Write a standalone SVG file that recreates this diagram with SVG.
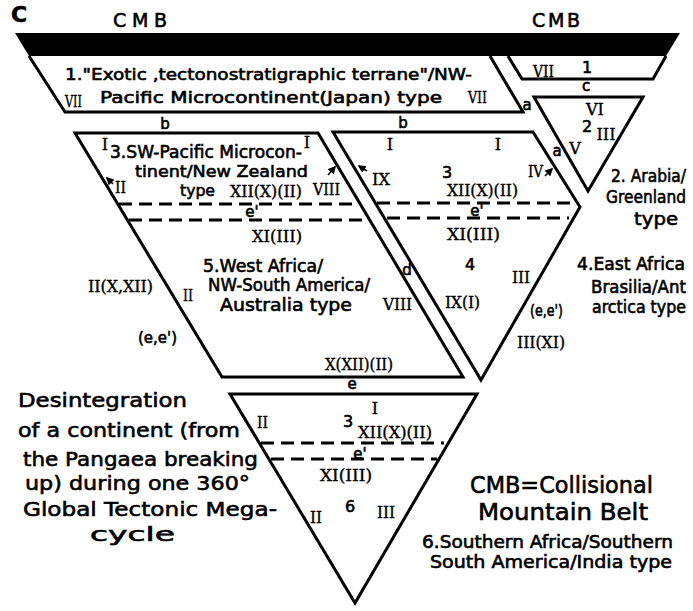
<svg xmlns="http://www.w3.org/2000/svg" width="693" height="611" viewBox="0 0 693 611">
<defs>
<style>
.ln{fill:none;stroke:#000;stroke-width:3;stroke-linejoin:miter}
.ds{fill:none;stroke:#000;stroke-width:3;stroke-dasharray:13 7}
.s{font-family:"DejaVu Sans","Liberation Sans",sans-serif;fill:#000;stroke:#000;stroke-width:0.6}
.r{font-family:"DejaVu Serif","Liberation Serif",serif;fill:#000;font-size:16px;stroke:#000;stroke-width:0.4}
.f15{font-size:15px}
.f16{font-size:16px}
.f17{font-size:17px}
.f18{font-size:18px}
.f19{font-size:19px}
.f20{font-size:20px}
.f23{font-size:23px}
.ar{fill:none;stroke:#000;stroke-width:1.6}
</style>
<marker id="ah" viewBox="0 0 10 10" refX="8" refY="5" markerWidth="5" markerHeight="5" orient="auto"><path d="M0,0 L10,5 L0,10 z" fill="#000"/></marker>
</defs>
<rect width="693" height="611" fill="#fff"/>

<g id="title">
<text class="s" x="11" y="22" font-size="22" font-weight="bold">C</text>
<text class="s f19" x="113" y="27" textLength="54" lengthAdjust="spacing">CMB</text>
<text class="s f19" x="532" y="27" textLength="48" lengthAdjust="spacing">CMB</text>
</g>

<g id="cmb-band">
<polygon points="15,33 680,33 666,56 29,56" fill="#000"/>
</g>

<g id="node1">
<polyline class="ln" points="29,56 65,112 523,112 490,56"/>
<text class="s f16" x="65" y="80" textLength="407" lengthAdjust="spacingAndGlyphs">1."Exotic ,tectonostratigraphic terrane"/NW-</text>
<text class="s f16" x="100" y="103" textLength="342" lengthAdjust="spacingAndGlyphs">Pacific Microcontinent(Japan) type</text>
<text class="r" x="65" y="107" textLength="17" lengthAdjust="spacingAndGlyphs">VII</text>
<text class="r" x="468" y="103" textLength="19" lengthAdjust="spacingAndGlyphs">VII</text>
</g>

<g id="node1b">
<polyline class="ln" points="508,56 522,79 653,79 666,56"/>
<text class="r" x="533" y="77" textLength="21" lengthAdjust="spacingAndGlyphs">VII</text>
<text class="s f16" x="587" y="73" text-anchor="middle">1</text>
</g>

<g id="node2">
<polygon class="ln" points="534,97 643,97 588,191"/>
<text class="r" x="595" y="115" text-anchor="middle">VI</text>
<text class="s f16" x="587" y="132" text-anchor="middle">2</text>
<text class="r" x="606" y="140" text-anchor="middle">III</text>
<text class="r" x="575" y="154" text-anchor="middle">V</text>
</g>

<g id="node34">
<polygon class="ln" points="333,132 533,132 580,207 481,380"/>
<line class="ds" x1="377" y1="203" x2="571" y2="203"/>
<line class="ds" x1="387" y1="218" x2="569" y2="218"/>
<text class="r" x="390" y="150" text-anchor="middle">I</text>
<text class="r" x="498" y="150" text-anchor="middle">I</text>
<text class="r" x="372" y="185" textLength="18" lengthAdjust="spacingAndGlyphs">IX</text>
<text class="s f16" x="447" y="178" text-anchor="middle">3</text>
<text class="r" x="447" y="196" textLength="71" lengthAdjust="spacingAndGlyphs">XII(X)(II)</text>
<text class="r" x="528" y="177" textLength="15" lengthAdjust="spacingAndGlyphs">IV</text>
<text class="s f15" x="477" y="216" text-anchor="middle">e'</text>
<text class="r" x="447" y="240" textLength="53" lengthAdjust="spacingAndGlyphs">XI(III)</text>
<text class="s f16" x="470" y="270" text-anchor="middle">4</text>
<text class="r" x="512" y="283" textLength="18" lengthAdjust="spacingAndGlyphs">III</text>
<text class="r" x="445" y="308" textLength="35" lengthAdjust="spacingAndGlyphs">IX(I)</text>
<text class="s f15" x="530" y="316" textLength="33" lengthAdjust="spacingAndGlyphs">(e,e')</text>
<text class="r" x="517" y="348" textLength="48" lengthAdjust="spacingAndGlyphs">III(XI)</text>
</g>

<g id="node5">
<polygon class="ln" points="75,133 318,133 463,377 222,377"/>
<line class="ds" x1="119" y1="204" x2="359" y2="204"/>
<line class="ds" x1="129" y1="220" x2="368" y2="220"/>
<text class="r" x="105" y="150" text-anchor="middle">I</text>
<text class="s f17" x="110" y="158" textLength="192" lengthAdjust="spacingAndGlyphs">3.SW-Pacific Microcon-</text>
<text class="r" x="307" y="148" text-anchor="middle">I</text>
<text class="s f16" x="135" y="177" textLength="173" lengthAdjust="spacingAndGlyphs">tinent/New Zealand</text>
<text class="r" x="115" y="193" textLength="11" lengthAdjust="spacingAndGlyphs">II</text>
<text class="s f16" x="180" y="196" textLength="35" lengthAdjust="spacingAndGlyphs">type</text>
<text class="r" x="230" y="197" textLength="72" lengthAdjust="spacingAndGlyphs">XII(X)(II)</text>
<text class="r" x="313" y="195" textLength="27" lengthAdjust="spacingAndGlyphs">VIII</text>
<text class="s f15" x="252" y="217" text-anchor="middle">e'</text>
<text class="r" x="252" y="242" textLength="50" lengthAdjust="spacingAndGlyphs">XI(III)</text>
<text class="s f17" x="203" y="272" textLength="120" lengthAdjust="spacingAndGlyphs">5.West Africa/</text>
<text class="s f17" x="208" y="291" textLength="162" lengthAdjust="spacingAndGlyphs">NW-South America/</text>
<text class="s f17" x="220" y="311" textLength="132" lengthAdjust="spacingAndGlyphs">Australia type</text>
<text class="r" x="88" y="292" textLength="65" lengthAdjust="spacingAndGlyphs">II(X,XII)</text>
<text class="r" x="183" y="301" textLength="10" lengthAdjust="spacingAndGlyphs">II</text>
<text class="s f15" x="138" y="343" textLength="39" lengthAdjust="spacingAndGlyphs">(e,e')</text>
<text class="r" x="383" y="310" textLength="29" lengthAdjust="spacingAndGlyphs">VIII</text>
<text class="r" x="325" y="370" textLength="68" lengthAdjust="spacingAndGlyphs">X(XII)(II)</text>
</g>

<g id="node6">
<polygon class="ln" points="230,394 477,394 355,603"/>
<line class="ds" x1="261" y1="443" x2="444" y2="443"/>
<line class="ds" x1="271" y1="459" x2="437" y2="459"/>
<text class="r" x="375" y="414" text-anchor="middle">I</text>
<text class="r" x="257" y="428" textLength="11" lengthAdjust="spacingAndGlyphs">II</text>
<text class="s f16" x="348" y="427" text-anchor="middle">3</text>
<text class="r" x="358" y="438" textLength="74" lengthAdjust="spacingAndGlyphs">XII(X)(II)</text>
<text class="s f15" x="360" y="459" text-anchor="middle">e'</text>
<text class="r" x="320" y="481" textLength="52" lengthAdjust="spacingAndGlyphs">XI(III)</text>
<text class="r" x="310" y="523" textLength="12" lengthAdjust="spacingAndGlyphs">II</text>
<text class="s f16" x="350" y="512" text-anchor="middle">6</text>
<text class="r" x="377" y="518" textLength="18" lengthAdjust="spacingAndGlyphs">III</text>
</g>

<g id="boundary-labels">
<text class="s f15" x="165" y="129" text-anchor="middle">b</text>
<text class="s f15" x="403" y="128" text-anchor="middle">b</text>
<text class="s f15" x="527" y="110" text-anchor="middle">a</text>
<text class="s f15" x="557" y="156" text-anchor="middle">a</text>
<text class="s f15" x="586" y="91" text-anchor="middle">c</text>
<text class="s f15" x="407" y="275" text-anchor="middle">d</text>
<text class="s f15" x="352" y="389" text-anchor="middle">e</text>
</g>

<g id="connectors">
<path class="ar" d="M328,175 L335,167" marker-end="url(#ah)"/>
<path class="ar" d="M367,171 L359,166" marker-end="url(#ah)"/>
<path class="ar" d="M545,176 L552,169" marker-end="url(#ah)"/>
<path class="ar" d="M113,184 L107,178" marker-end="url(#ah)"/>
</g>

<g id="legend-right">
<text class="s f17" x="611" y="182" textLength="75" lengthAdjust="spacingAndGlyphs">2. Arabia/</text>
<text class="s f17" x="606" y="203" textLength="80" lengthAdjust="spacingAndGlyphs">Greenland</text>
<text class="s f18" x="634" y="225" textLength="44" lengthAdjust="spacingAndGlyphs">type</text>
<text class="s f17" x="577" y="270" textLength="108" lengthAdjust="spacingAndGlyphs">4.East Africa</text>
<text class="s f17" x="591" y="293" textLength="95" lengthAdjust="spacingAndGlyphs">Brasilia/Ant</text>
<text class="s f17" x="592" y="313" textLength="94" lengthAdjust="spacingAndGlyphs">arctica type</text>
</g>

<g id="legend-left">
<text class="s f20" x="18" y="407" textLength="169" lengthAdjust="spacingAndGlyphs">Desintegration</text>
<text class="s f20" x="18" y="437" textLength="222" lengthAdjust="spacingAndGlyphs">of a continent (from</text>
<text class="s f20" x="23" y="466" textLength="235" lengthAdjust="spacingAndGlyphs">the Pangaea breaking</text>
<text class="s f20" x="25" y="490" textLength="225" lengthAdjust="spacingAndGlyphs">up) during one 360°</text>
<text class="s f20" x="23" y="516" textLength="254" lengthAdjust="spacingAndGlyphs">Global Tectonic Mega-</text>
<text class="s f20" x="90" y="541" textLength="85" lengthAdjust="spacingAndGlyphs">cycle</text>
</g>

<g id="legend-bottom">
<text class="s f23" x="470" y="493" textLength="183" lengthAdjust="spacingAndGlyphs">CMB=Collisional</text>
<text class="s f23" x="478" y="520" textLength="170" lengthAdjust="spacingAndGlyphs">Mountain Belt</text>
<text class="s f17" x="422" y="548" textLength="251" lengthAdjust="spacingAndGlyphs">6.Southern Africa/Southern</text>
<text class="s f17" x="430" y="568" textLength="242" lengthAdjust="spacingAndGlyphs">South America/India type</text>
</g>
</svg>
